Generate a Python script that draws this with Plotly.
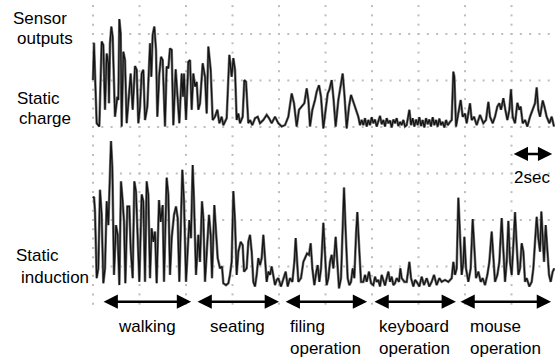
import numpy as np
import plotly.graph_objects as go

# ---------------- data (time in s, amplitude in screen divisions) ----------------
charge_t = [
    0.000,0.043,0.086,0.158,0.272,0.373,0.444,0.516,0.588,0.659,
    0.688,0.731,0.789,0.846,0.946,1.047,1.090,1.133,1.190,1.233,
    1.305,1.376,1.448,1.520,1.620,1.706,1.806,1.878,1.950,2.022,
    2.093,2.165,2.237,2.337,2.452,2.509,2.566,2.638,2.710,2.767,
    2.853,2.925,2.996,3.097,3.168,3.240,3.312,3.384,3.455,3.556,
    3.627,3.713,3.814,3.871,3.914,4.000,4.100,4.172,4.244,4.315,
    4.387,4.459,4.530,4.602,4.717,4.817,4.889,4.961,5.061,5.147,
    5.247,5.348,5.434,5.534,5.606,5.749,5.864,5.964,6.036,6.108,
    6.179,6.251,6.323,6.437,6.509,6.581,6.681,
    6.753,6.853,6.968,7.083,7.183,7.326,7.470,7.570,7.685,7.828,
    7.971,8.115,8.258,8.401,8.545,8.645,8.760,8.860,8.975,9.090,
    9.190,9.262,9.333,9.434,9.548,9.620,9.720,9.806,9.907,10.007,
    10.093,10.165,10.265,10.337,10.437,10.552,10.638,10.738,10.810,10.910,
    11.011,11.097,11.197,11.297,11.412,11.484,
    11.556,11.627,11.699,11.771,11.842,11.914,11.986,12.057,12.129,12.201,
    12.272,12.344,12.416,12.488,12.559,12.631,12.703,12.774,12.846,12.918,
    12.989,13.061,13.133,13.204,13.276,13.348,13.419,
    13.491,13.606,13.677,13.749,13.821,13.893,13.964,14.036,14.108,14.179,
    14.251,14.323,14.394,14.466,14.538,14.609,14.681,14.753,14.824,14.896,
    14.968,15.039,15.111,15.183,15.255,15.355,15.427,15.498,15.541,15.613,
    15.713,15.813,15.899,16.000,16.072,16.215,16.287,16.387,16.502,16.645,
    16.788,16.903,17.004,17.075,17.190,17.290,17.391,17.477,17.548,17.649,
    17.735,17.821,17.907,17.978,18.050,18.151,18.251,18.337,18.394,18.480,
    18.581,18.681,18.796,18.910,19.011,19.082,19.154,19.226,19.341,19.412,
    19.513,19.627,19.728,19.828,
]
charge_v = [
    1.01,1.81,1.15,0.08,0.01,1.84,1.76,0.37,1.58,1.37,
    0.51,1.80,2.16,1.94,0.22,0.65,0.58,2.32,2.01,0.01,
    1.62,1.44,0.08,0.51,1.15,0.37,1.31,1.23,0.08,0.44,
    1.15,1.23,0.15,0.44,1.80,1.08,1.98,2.16,1.66,0.22,
    1.15,1.51,1.44,0.01,1.30,1.26,1.69,1.66,0.04,1.24,
    0.72,0.08,1.15,0.65,1.15,0.15,1.40,1.44,0.37,1.15,
    0.87,0.97,0.37,0.51,1.37,1.08,0.29,1.73,1.23,0.15,
    0.22,0.37,0.08,0.22,0.04,0.19,1.55,1.08,1.48,1.23,
    0.15,0.29,0.08,0.22,1.01,0.97,0.08,
    0.15,0.04,0.19,0.22,0.08,0.15,0.26,0.19,0.08,0.22,
    0.08,0.01,0.04,0.22,0.72,0.51,0.01,0.37,0.44,0.51,
    0.83,0.58,0.01,0.37,0.58,0.76,0.90,0.65,-0.03,0.44,
    0.72,0.80,1.01,0.65,0.01,0.58,0.87,1.15,0.72,-0.03,
    0.44,0.69,0.54,0.37,0.22,0.04,
    0.15,0.04,0.19,0.01,0.15,0.04,0.21,0.08,0.16,0.01,
    0.11,0.24,0.06,0.15,0.01,0.19,0.08,0.14,-0.01,0.16,
    0.08,0.19,0.02,0.11,0.04,0.15,0.01,
    0.04,0.37,0.04,0.19,0.01,0.16,0.04,0.21,0.02,0.15,
    -0.01,0.19,0.06,0.16,0.01,0.21,0.04,0.15,0.01,0.18,
    0.04,0.11,-0.01,0.15,0.04,0.11,0.15,1.19,1.08,0.01,
    0.29,0.58,0.22,0.29,0.08,0.51,0.15,0.22,0.04,0.26,
    0.08,0.15,0.54,0.22,0.08,0.22,0.44,0.51,0.37,0.62,
    0.37,0.15,0.37,0.81,0.22,0.08,0.52,0.37,0.44,0.08,
    0.15,0.01,0.22,0.37,0.51,0.85,0.37,0.22,0.57,0.44,
    0.22,0.08,0.22,0.01,
]

induction_t = [
    0.000,0.043,0.086,0.158,0.229,0.301,0.373,0.444,0.516,0.588,
    0.659,0.731,0.774,0.832,0.903,0.989,1.061,1.133,1.204,1.276,
    1.333,1.391,1.477,1.563,1.620,1.706,1.778,1.849,1.921,1.993,
    2.093,2.165,2.237,2.308,2.380,2.452,2.523,2.595,2.667,2.738,
    2.839,2.910,2.996,3.054,3.168,3.240,3.312,3.384,3.484,3.570,
    3.642,3.713,3.842,3.914,4.000,4.143,4.215,4.287,4.344,4.430,
    4.530,4.602,4.688,4.746,4.817,4.889,4.989,5.061,5.118,5.219,
    5.290,5.362,5.462,5.548,5.606,5.720,5.821,5.892,5.964,6.036,
    6.108,6.179,6.251,6.351,6.437,6.495,6.609,6.681,6.753,
    6.824,6.896,6.968,7.039,7.111,7.183,7.255,7.326,7.398,7.470,
    7.541,7.613,7.685,7.756,7.828,7.900,7.971,8.086,8.186,8.287,
    8.373,8.473,8.574,8.660,8.717,8.774,8.832,8.946,9.047,9.118,
    9.204,9.290,9.362,9.434,9.520,9.606,9.663,9.735,9.807,9.907,
    9.979,10.050,10.122,10.194,10.265,10.337,10.437,10.509,10.581,10.667,
    10.738,10.796,10.867,10.953,11.025,11.097,11.169,11.240,11.312,11.369,
    11.441,11.527,11.627,11.699,11.771,11.871,11.957,12.057,12.129,12.201,
    12.272,12.344,12.416,12.488,12.559,12.631,12.703,12.774,12.846,12.918,
    12.989,13.061,13.161,13.219,13.276,13.391,
    13.491,13.606,13.677,13.778,13.850,13.921,14.036,14.136,14.237,14.351,
    14.466,14.566,14.667,14.781,14.896,14.996,15.139,15.283,15.427,15.498,
    15.570,15.642,15.713,15.785,15.857,15.928,15.971,16.043,16.143,16.244,
    16.330,16.402,16.473,16.574,16.674,16.760,16.860,16.961,17.047,17.147,
    17.219,17.290,17.391,17.477,17.577,17.649,17.721,17.792,17.864,17.936,
    18.007,18.079,18.151,18.222,18.294,18.366,18.437,18.509,18.581,18.652,
    18.767,18.867,18.939,19.011,19.083,19.154,19.226,19.283,19.341,19.398,
    19.470,19.541,19.613,19.685,19.771,19.843,
]
induction_v = [
    1.91,1.94,1.62,0.19,0.40,2.09,1.55,0.08,0.40,1.84,
    1.33,2.41,3.14,2.55,0.26,1.33,1.12,0.04,2.27,1.84,
    1.40,0.08,1.73,1.73,0.83,0.19,2.27,2.05,1.12,0.11,
    1.99,1.84,0.11,2.27,1.98,0.19,1.26,0.97,1.19,0.08,
    1.87,1.40,1.76,0.11,2.35,1.98,0.26,1.05,1.55,1.73,
    1.48,0.11,2.52,1.84,0.11,1.44,1.05,2.62,1.84,0.26,
    1.12,0.54,1.84,1.48,0.11,0.76,1.55,1.12,0.19,1.76,
    1.26,0.62,0.40,0.44,0.08,0.04,0.08,0.26,0.54,2.06,
    1.40,0.26,0.76,0.97,0.90,0.33,0.40,0.97,1.12,
    0.76,0.11,0.01,0.26,0.62,0.47,0.62,1.12,0.54,0.11,
    0.33,0.26,0.44,0.19,0.04,0.15,0.19,0.01,0.19,0.33,
    0.01,0.19,0.11,0.54,1.05,0.54,0.11,0.19,0.54,0.62,
    0.72,0.69,0.94,0.40,0.04,0.33,0.47,0.11,0.40,1.38,
    0.83,0.04,0.19,0.54,0.69,0.40,1.08,0.54,-0.03,0.19,
    1.62,2.14,1.19,0.19,0.04,0.11,0.40,0.19,1.12,1.61,
    0.90,0.11,0.11,0.26,0.11,0.33,0.08,0.04,0.22,0.11,
    0.15,0.01,0.26,0.11,0.03,0.19,0.33,0.11,0.22,0.04,
    0.08,0.19,0.11,0.40,0.19,0.11,
    0.11,0.54,0.19,0.01,0.15,0.11,0.01,0.22,0.04,0.19,
    0.01,0.11,0.26,0.04,0.19,0.11,0.15,0.11,0.19,0.54,
    0.26,0.40,1.92,1.12,0.26,0.54,1.08,0.40,0.11,0.40,
    1.46,0.83,0.19,0.33,0.11,0.19,0.04,0.26,0.54,1.19,
    0.54,0.11,0.26,0.54,1.48,0.76,0.11,0.54,1.42,0.54,
    0.26,0.90,1.61,0.90,0.26,0.40,0.94,0.76,0.11,0.19,
    0.01,0.11,0.40,0.97,1.51,1.05,0.76,1.62,1.12,0.54,
    1.33,0.76,0.26,0.11,0.33,0.40,
]

activities = ["walking", "seating", "filing<br>operation",
              "keyboard<br>operation", "mouse<br>operation"]
activity_start = [0.39, 4.43, 8.22, 12.04, 15.74]
activity_end = [4.22, 8.00, 11.79, 15.61, 19.70]

trace_labels = ["Sensor", "outputs", "Static", "charge", "Static", "induction"]

# ---------------- layout constants ----------------
W, H = 555, 358
CHARGE_OFFSET = 4.0      # screen division of the static-charge baseline
INDUCTION_OFFSET = 0.56  # screen division of the static-induction baseline
FONT = "Liberation Sans, Arial, Helvetica, sans-serif"

fig = go.Figure()

# oscilloscope dotted graticule
gx, gy = [], []
for tm in np.arange(0, 20, 2.0):
    for v in np.arange(0.2, 6.75, 0.2):
        gx.append(tm); gy.append(v)
for v in range(1, 7):
    for tm in np.arange(0, 20.0, 0.4):
        gx.append(tm); gy.append(v)
fig.add_trace(go.Scatter(x=gx, y=gy, mode="markers", hoverinfo="skip",
                         marker=dict(size=2, color="#bdbdbd", symbol="square"),
                         showlegend=False))

# signals: grey body with dark core to mimic the scope trace
for tt, vv, off in [(charge_t, charge_v, CHARGE_OFFSET),
                    (induction_t, induction_v, INDUCTION_OFFSET)]:
    yy = [off + v for v in vv]
    fig.add_trace(go.Scatter(x=tt, y=yy, mode="lines",
                             line=dict(color="#7a7a7a", width=2.6),
                             showlegend=False, hoverinfo="skip"))
    fig.add_trace(go.Scatter(x=tt, y=yy, mode="lines",
                             line=dict(color="#141414", width=1.3),
                             showlegend=False))

ann = []
# activity arrows + labels
ARROW_Y = 0.243
for name, s, e in zip(activities, activity_start, activity_end):
    ann.append(dict(x=e, y=ARROW_Y, ax=s, ay=ARROW_Y, xref="x", yref="y",
                    axref="x", ayref="y", text="", showarrow=True,
                    arrowside="end+start", arrowhead=2, arrowsize=1.1,
                    arrowwidth=2.6, arrowcolor="black", standoff=0, startstandoff=0))
    ann.append(dict(x=(s + e) / 2, y=-0.037, xref="x", yref="y", text=name,
                    showarrow=False, xanchor="center", yanchor="top", align="left",
                    font=dict(family=FONT, size=17, color="black")))

# 2 sec scale
ann.append(dict(x=19.75, y=3.42, ax=18.03, ay=3.42, xref="x", yref="y",
                axref="x", ayref="y", text="", showarrow=True,
                arrowside="end+start", arrowhead=2, arrowsize=1.1,
                arrowwidth=2.6, arrowcolor="black", standoff=0, startstandoff=0))
ann.append(dict(x=18.89, y=(313 - 178) / 46.5, xref="x", yref="y", text="2sec",
                showarrow=False, xanchor="center", yanchor="middle",
                font=dict(family=FONT, size=17, color="black")))

# left labels
label_pos = [(39.5, 18), (45, 38), (38, 98), (44.5, 118), (37.7, 255), (54.5, 277)]
for txt, (px, py) in zip(trace_labels, label_pos):
    ann.append(dict(x=px / W, y=1 - py / H, xref="paper", yref="paper", text=txt,
                    showarrow=False, xanchor="center", yanchor="middle",
                    font=dict(family=FONT, size=17, color="black")))

fig.update_layout(
    width=W, height=H, margin=dict(l=0, r=0, t=0, b=0),
    paper_bgcolor="white", plot_bgcolor="white",
    xaxis=dict(range=[-4.0, 19.87], visible=False, fixedrange=True),
    yaxis=dict(range=[-0.968, 6.731], visible=False, fixedrange=True),
    annotations=ann, showlegend=False,
)

fig.write_html("out.html", config={"displayModeBar": False},
               post_script="document.body.style.margin='0';"
                           "document.body.style.overflow='hidden';")
